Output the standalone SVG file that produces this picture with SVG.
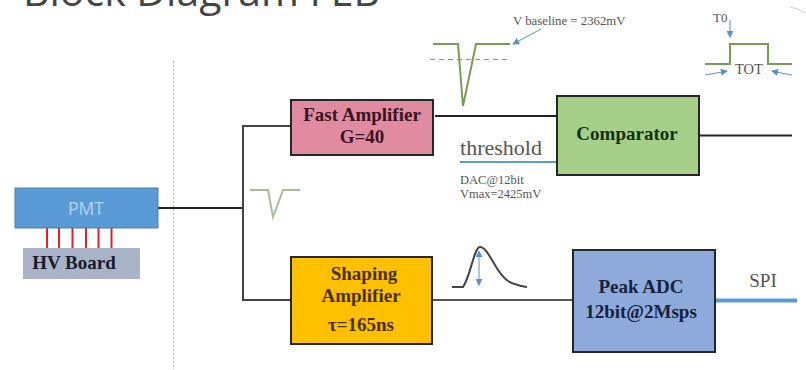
<svg xmlns="http://www.w3.org/2000/svg" width="806" height="370" viewBox="0 0 806 370">
<style>
.s{font-family:"Liberation Serif",serif}
.b{font-family:"Liberation Serif",serif;font-weight:bold;text-anchor:middle;font-size:19px}
.box{stroke:#262626;stroke-width:2}
.w{fill:none;stroke-width:2}
.g{fill:none;stroke:#7a9a5a;stroke-width:2}
.a{fill:none;stroke:#5b8fc9;stroke-width:1;marker-end:url(#ar)}
</style>
<defs><marker id="ar" viewBox="0 0 8 8" refX="7" refY="4" markerWidth="7" markerHeight="7" orient="auto-start-reverse" markerUnits="userSpaceOnUse"><path d="M0 0L8 4L0 8Z" fill="#5b8fc9"/></marker></defs>
<rect width="806" height="370" fill="#fff"/>
<text x="23" y="6" font-family="Open Sans,sans-serif" font-size="41" fill="#444">Block Diagram FEB</text>
<line x1="173.500" y1="61" x2="173.500" y2="370" stroke="#a9bccb" stroke-dasharray="2 2"/>
<g id="connectors">
<path class="w" stroke="#222" d="M158 208H243"/>
<path class="w" stroke="#444" d="M290 126H243V300H290"/>
<path class="w" stroke="#222" d="M435 116H557"/>
<path class="w" stroke="#222" d="M700 135.500H792"/>
<path class="w" stroke="#555" d="M433 300H572"/>
<path fill="none" stroke="#5b9bd5" stroke-width="2" d="M460 162H557"/>
<path fill="none" stroke="#5b9bd5" stroke-width="4" d="M716 300.500H797"/>
<g stroke="#e0202a" stroke-width="2"><path d="M47 228V248M59 228V248M72.500 228V248M86 228V248M98.500 228V248M111.500 228V248"/></g>
</g>
<g id="pmt"><rect x="15" y="188" width="143" height="40" fill="#5b9bd5" stroke="#4a7eaa"/><text x="86" y="215" text-anchor="middle" font-family="Open Sans,sans-serif" font-size="17.500" fill="#b4d4ef">PMT</text></g>
<g id="hv"><rect x="23" y="248" width="117" height="31" fill="#a8b3c8"/><text x="74" y="269" class="b" fill="#1a1a2a">HV Board</text></g>
<g id="fast"><rect class="box" x="291" y="100" width="142" height="55" fill="#e08ba0"/><text x="362" y="121" class="b" fill="#3a1420">Fast Amplifier</text><text x="362" y="143" class="b" fill="#3a1420">G=40</text></g>
<g id="comparator"><rect class="box" x="557" y="96" width="142" height="79" fill="#a6cf8a"/><text x="627" y="140" class="b" fill="#14300f">Comparator</text></g>
<g id="shaping"><rect class="box" x="291" y="257" width="141" height="87" fill="#ffc000"/><text x="364" y="280" class="b" fill="#4a3000">Shaping</text><text x="361" y="302" class="b" fill="#4a3000">Amplifier</text><text x="361" y="331" class="b" fill="#4a3000">τ=165ns</text></g>
<g id="adc"><rect class="box" x="573" y="250" width="142" height="102" fill="#8eaadb"/><text x="641" y="293" class="b" fill="#16223f">Peak ADC</text><text x="641" y="318" class="b" fill="#16223f">12bit@2Msps</text></g>
<text x="501" y="155" class="s" font-size="22" text-anchor="middle" fill="#555">threshold</text>
<text x="460" y="184" class="s" font-size="12.500" fill="#555">DAC@12bit</text>
<text x="460" y="198" class="s" font-size="12.500" fill="#555">Vmax=2425mV</text>
<text x="513" y="25" class="s" font-size="12.800" fill="#555">V baseline = 2362mV</text>
<text x="713" y="22" class="s" font-size="13" fill="#555">T0</text>
<text x="735" y="74" class="s" font-size="14.500" fill="#555">TOT</text>
<text x="763" y="287" class="s" font-size="19" text-anchor="middle" fill="#555">SPI</text>
<path class="g" stroke="#6d9050" d="M433 44H458L463 106L476 44H510"/>
<line x1="430" y1="59.500" x2="507" y2="59.500" stroke="#5b9bd5" stroke-dasharray="5 4"/>
<path class="a" d="M541 29L513 44"/>
<path class="g" style="stroke:#a9bd98" d="M250 190H268L273 217L283 190H300"/>
<path fill="none" stroke="#444" stroke-width="2" d="M452 287H463C471 275 474 247 480 247C489 247 495 273 508 281C515 285 522 286 527 287"/>
<path class="a" style="marker-start:url(#ar)" d="M479 251V285"/>
<path class="g" d="M705 64H730V44H768V64H792"/>
<path class="a" d="M730 20V37"/>
<path class="a" d="M705 75Q717 73 727 71"/>
<path class="a" d="M792 75Q780 73 772 71"/>
<path fill="none" stroke="#bdd3e8" d="M790 7Q798 8 805 13"/>
</svg>
